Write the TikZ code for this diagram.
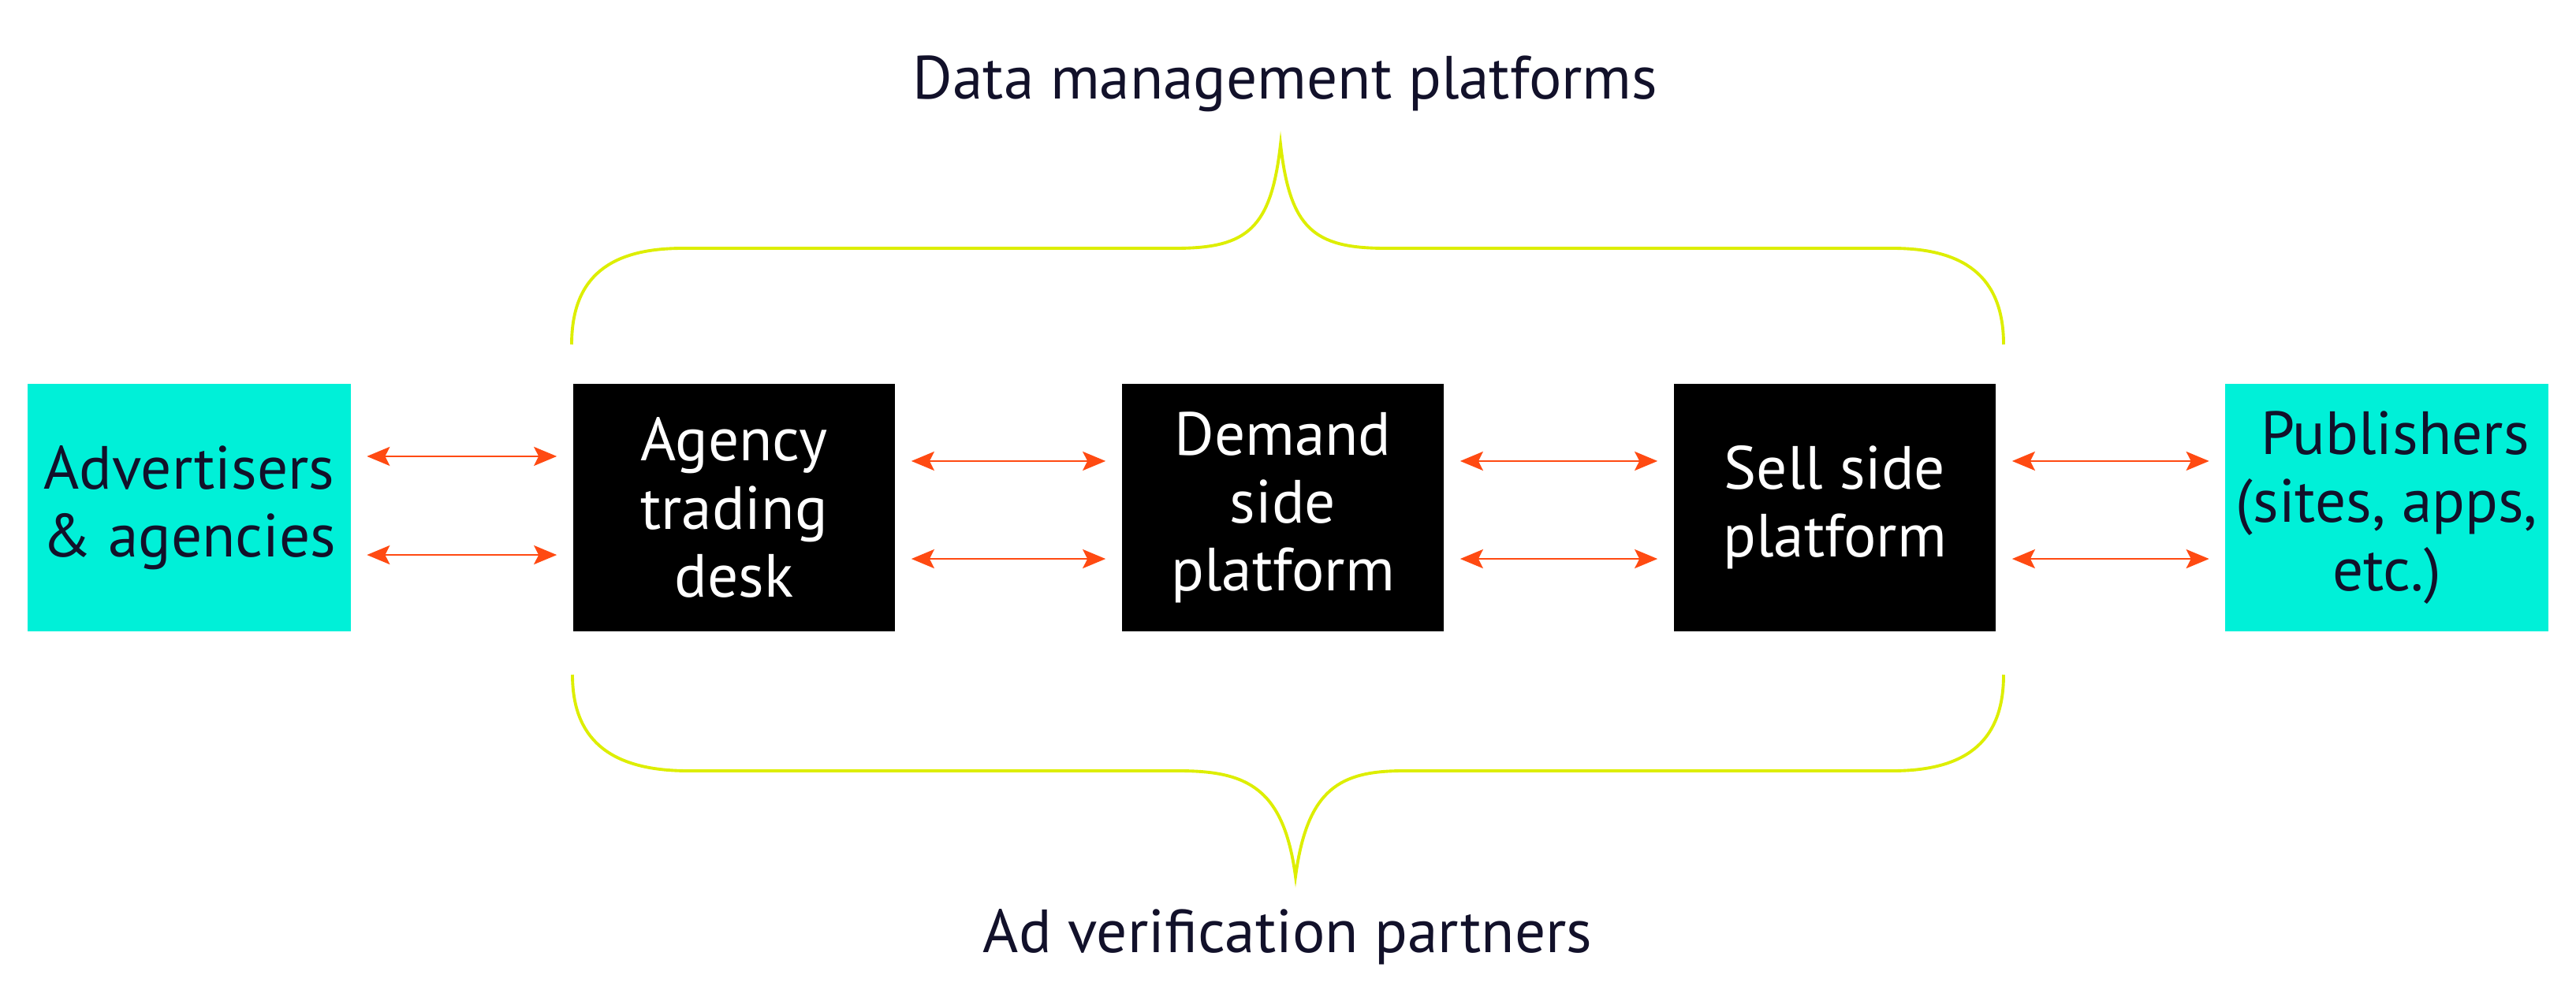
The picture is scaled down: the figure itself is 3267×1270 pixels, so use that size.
\documentclass[tikz,border=0pt]{standalone}
\usepackage{fontspec}
\setmainfont{PT Sans}
\usetikzlibrary{arrows.meta}
\definecolor{cyanbox}{HTML}{00F0D8}
\definecolor{bracec}{HTML}{DDEE00}
\definecolor{arrowc}{HTML}{FF4A12}
\definecolor{textc}{HTML}{12112A}
\tikzset{
  txt/.style={font=\fontsize{22}{24.5}\selectfont, align=center},
  cbox/.style={txt, fill=cyanbox, text=textc, minimum width=4.09cm, minimum height=3.13cm, inner sep=0pt},
  bbox/.style={txt, fill=black, text=white, minimum width=4.08cm, minimum height=3.13cm, inner sep=0pt},
  tip/.tip={Stealth[length=0.29cm,width=0.24cm,inset=0.06cm]},
  biarrow/.style={draw=arrowc, line width=0.75pt, tip-tip, shorten >=0.2cm, shorten <=0.2cm},
  bracepath/.style={draw=bracec, line width=1.1pt},
  caption/.style={txt, text=textc, anchor=base}
}
\begin{document}
\begin{tikzpicture}[x=0.01cm,y=-0.01cm]
\useasboundingbox (0,0) rectangle (3267,1270);
\node[cbox] (adv) at (240,644) {Advertisers\\\& agencies};
\node[bbox] (atd) at (931,644) {Agency\\trading\\desk};
\node[bbox] (dsp) at (1627,644) {Demand\\side\\platform};
\node[bbox] (ssp) at (2327,644) {Sell side\\platform};
\node[cbox] (pub) at (3027,644) {\ Publishers\\(sites, apps,\\etc.)};

\draw[biarrow] ([yshift=0.65cm]adv.east) -- ([yshift=0.65cm]atd.west);
\draw[biarrow] ([yshift=-0.6cm]adv.east) -- ([yshift=-0.6cm]atd.west);
\draw[biarrow] ([yshift=0.59cm]atd.east) -- ([yshift=0.59cm]dsp.west);
\draw[biarrow] ([yshift=-0.65cm]atd.east) -- ([yshift=-0.65cm]dsp.west);
\draw[biarrow] ([yshift=0.59cm]dsp.east) -- ([yshift=0.59cm]ssp.west);
\draw[biarrow] ([yshift=-0.65cm]dsp.east) -- ([yshift=-0.65cm]ssp.west);
\draw[biarrow] ([yshift=0.59cm]ssp.east) -- ([yshift=0.59cm]pub.west);
\draw[biarrow] ([yshift=-0.65cm]ssp.east) -- ([yshift=-0.65cm]pub.west);

% top brace
\draw[bracepath] (725,437) .. controls (725,350) and (775,315) .. (866,315)
  -- (1491,315) .. controls (1582,315) and (1612,290) .. (1624,183)
  .. controls (1636,290) and (1666,315) .. (1757,315)
  -- (2400,315) .. controls (2490,315) and (2541,350) .. (2541,437);
% bottom brace
\draw[bracepath] (726,856) .. controls (726,935) and (770,978) .. (873,978)
  -- (1495,978) .. controls (1582,978) and (1628,1000) .. (1643,1112)
  .. controls (1658,1000) and (1700,978) .. (1780,978)
  -- (2400,978) .. controls (2500,978) and (2541,935) .. (2541,856);

\node[caption] (dmp) at (1630,126) {Data management platforms};
\node[caption] (avp) at (1633,1208) {Ad verification partners};
\end{tikzpicture}
\end{document}
